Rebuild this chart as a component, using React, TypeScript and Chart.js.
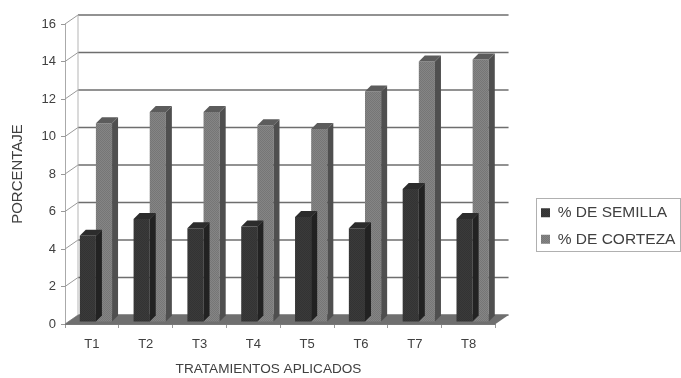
import React, { useEffect, useRef } from "react";
import { Chart, registerables } from "chart.js";

Chart.register(...registerables);

const categories = ["T1", "T2", "T3", "T4", "T5", "T6", "T7", "T8"];
const semilla = [4.6, 5.5, 5.0, 5.1, 5.6, 5.0, 7.1, 5.5];
const corteza = [10.6, 11.2, 11.2, 10.5, 10.3, 12.3, 13.9, 14.0];
const yTicks = [0, 2, 4, 6, 8, 10, 12, 14, 16];
const xTitle = "TRATAMIENTOS APLICADOS";

const FONT = "'Liberation Sans', Arial, sans-serif";
const TEXT = "#404040";
const DEPTH_X = 13;
const DEPTH_Y = 9;
const BAR_SHIFT_X = 4;
const BAR_SHIFT_Y = -2;
const BAR_DEPTH = 6;

// Small repeating fill that gives the bars their printed, halftone texture.
function halftone(base: string, dot: string) {
  const c = document.createElement("canvas");
  c.width = 2;
  c.height = 2;
  const g = c.getContext("2d")!;
  g.fillStyle = base;
  g.fillRect(0, 0, 2, 2);
  g.fillStyle = dot;
  g.fillRect(0, 0, 1, 1);
  g.fillRect(1, 1, 1, 1);
  return g.createPattern(c, "repeat")!;
}

// Back wall, floor and side walls of the pseudo 3D box.
const boxPlugin = {
  id: "box3d",
  beforeDatasetsDraw(chart: any) {
    const { ctx, chartArea: a, scales } = chart;
    const y = scales.y;
    ctx.save();
    ctx.lineWidth = 1.5;
    ctx.strokeStyle = "#6e6e6e";
    yTicks.forEach((t) => {
      const py = y.getPixelForValue(t);
      ctx.beginPath();
      ctx.moveTo(a.left + DEPTH_X, py - DEPTH_Y);
      ctx.lineTo(a.right + DEPTH_X, py - DEPTH_Y);
      ctx.stroke();
      ctx.save();
      ctx.lineWidth = 1;
      ctx.strokeStyle = "#999999";
      ctx.beginPath();
      ctx.moveTo(a.left, py);
      ctx.lineTo(a.left + DEPTH_X, py - DEPTH_Y);
      ctx.stroke();
      ctx.restore();
    });
    ctx.lineWidth = 1;
    ctx.strokeStyle = "#b5b5b5";
    ctx.beginPath();
    ctx.moveTo(a.left + DEPTH_X, y.getPixelForValue(0) - DEPTH_Y);
    ctx.lineTo(a.left + DEPTH_X, y.getPixelForValue(16) - DEPTH_Y);
    ctx.stroke();
    const y0 = y.getPixelForValue(0);
    ctx.fillStyle = "#6f6f6f";
    ctx.beginPath();
    ctx.moveTo(a.left, y0);
    ctx.lineTo(a.left + DEPTH_X, y0 - DEPTH_Y);
    ctx.lineTo(a.right + DEPTH_X, y0 - DEPTH_Y);
    ctx.lineTo(a.right, y0);
    ctx.closePath();
    ctx.fill();
    ctx.restore();
  },
  beforeDatasetDraw(chart: any) {
    chart.ctx.save();
    chart.ctx.translate(BAR_SHIFT_X, BAR_SHIFT_Y);
  },
  afterDatasetDraw(chart: any, args: any) {
    const { ctx } = chart;
    const dark = args.index === 0;
    chart.getDatasetMeta(args.index).data.forEach((el: any) => {
      const right = el.x + el.width / 2;
      const left = el.x - el.width / 2;
      ctx.fillStyle = dark ? "#222222" : "#4f4f4f";
      ctx.beginPath();
      ctx.moveTo(right, el.y);
      ctx.lineTo(right + BAR_DEPTH, el.y - BAR_DEPTH);
      ctx.lineTo(right + BAR_DEPTH, el.base - BAR_DEPTH);
      ctx.lineTo(right, el.base);
      ctx.closePath();
      ctx.fill();
      ctx.fillStyle = dark ? "#2c2c2c" : "#5c5c5c";
      ctx.beginPath();
      ctx.moveTo(left, el.y);
      ctx.lineTo(left + BAR_DEPTH, el.y - BAR_DEPTH);
      ctx.lineTo(right + BAR_DEPTH, el.y - BAR_DEPTH);
      ctx.lineTo(right, el.y);
      ctx.closePath();
      ctx.fill();
    });
    ctx.restore();
  },
  afterDraw(chart: any) {
    const { ctx, chartArea: a, scales } = chart;
    ctx.save();
    ctx.strokeStyle = "#b0b0b0";
    ctx.lineWidth = 1;
    ctx.strokeRect(536.5, 198.5, 144, 53);
    const y0 = scales.y.getPixelForValue(0);
    ctx.strokeStyle = "#777777";
    ctx.beginPath();
    ctx.moveTo(a.left, y0 + 0.5);
    ctx.lineTo(a.right, y0 + 0.5);
    ctx.stroke();
    ctx.fillStyle = TEXT;
    ctx.font = `13.6px ${FONT}`;
    ctx.textAlign = "center";
    ctx.textBaseline = "middle";
    ctx.fillText(xTitle, 268.5, 369);
    ctx.restore();
  },
};

// Places the legend in its box beside the plot once the layout has settled.
const legendPlacement = {
  id: "legendPlacement",
  afterLayout(chart: any) {
    const l = chart.legend;
    const w = l.width;
    const h = l.height;
    l.left = 530;
    l.right = 530 + w;
    l.top = 194;
    l.bottom = 194 + h;
  },
};

export default function App() {
  const ref = useRef<HTMLCanvasElement>(null);
  useEffect(() => {
    const chart = new Chart(ref.current!, {
      type: "bar",
      data: {
        labels: categories,
        datasets: [
          {
            label: "% DE SEMILLA",
            data: semilla,
            backgroundColor: halftone("#3a3a3a", "#333333"),
            clip: false,
          },
          {
            label: "% DE CORTEZA",
            data: corteza,
            backgroundColor: halftone("#858585", "#767676"),
            clip: false,
          },
        ] as any,
      },
      options: {
        responsive: false,
        animation: false,
        layout: { padding: { top: 24, right: 30, left: 0, bottom: 0 } },
        datasets: { bar: { categoryPercentage: 0.6, barPercentage: 1 } },
        scales: {
          x: {
            grid: { display: true, drawOnChartArea: false, color: "#999999", tickLength: 4, offset: true },
            border: { display: false },
            ticks: { color: TEXT, font: { family: FONT, size: 13 }, padding: 9, maxRotation: 0 },
            afterFit: (s: any) => {
              s.height = 54;
            },
          },
          y: {
            min: 0,
            max: 16,
            grid: { drawOnChartArea: false, color: "#999999", tickLength: 4 },
            border: { color: "#aaaaaa" },
            ticks: {
              stepSize: 2,
              color: TEXT,
              font: { family: FONT, size: 13 },
              padding: 5,
            },
            title: {
              display: true,
              text: "PORCENTAJE",
              color: TEXT,
              font: { family: FONT, size: 15 },
              padding: { top: 9, bottom: 0 },
            },
            afterFit: (s: any) => {
              s.width = 65;
            },
          },
        },
        plugins: {
          title: { display: false },
          tooltip: { enabled: false },
          legend: {
            position: "right",
            align: "start",
            labels: {
              color: TEXT,
              font: { family: FONT, size: 15.5 },
              boxWidth: 9,
              boxHeight: 9,
              padding: 11,
            },
          },
        },
      },
      plugins: [boxPlugin, legendPlacement],
    } as any);
    return () => chart.destroy();
  }, []);
  return (
    <div style={{ position: "absolute", left: 0, top: 0, width: 681, height: 378, background: "#fff" }}>
      <canvas ref={ref} width={681} height={378} style={{ display: "block" }} />
    </div>
  );
}
